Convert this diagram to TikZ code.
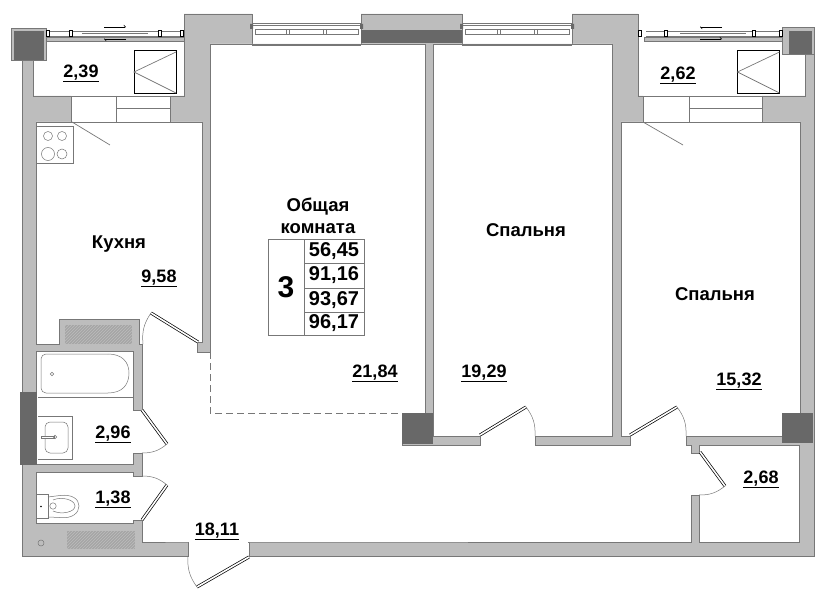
\documentclass[tikz,border=0pt]{standalone}
\usepackage{fontspec}
\setmainfont{Liberation Sans}
\usetikzlibrary{arrows, positioning, patterns, calc}
\definecolor{wallgray}{HTML}{BDBDBD}
\definecolor{edgegray}{HTML}{777777}
\definecolor{darkgray}{HTML}{686868}
\tikzset{%
	wall/.style={draw=edgegray, fill=wallgray, line width=0.9pt},
	room/.style={draw=edgegray, fill=white, line width=0.9pt},
	column/.style={fill=darkgray},
	thin line/.style={draw=edgegray, line width=0.7pt},
	door/.style={draw=black, double=white, line width=0.7pt, double distance=1.6pt},
	swing/.style={draw=edgegray, line width=0.5pt},
	vent/.style={pattern=north east lines, pattern color=wallgray, preaction={fill=gray!70}},
	area/.style={font=\fontsize{18}{18}\selectfont\bfseries, inner sep=1pt, yshift=-2.5pt},
	roomname/.style={font=\fontsize{18.5}{22}\selectfont\bfseries, align=center, inner sep=0pt},
	cell/.style={draw=edgegray, line width=0.7pt, minimum width=60pt, minimum height=24pt,%
		inner sep=0pt, font=\fontsize{20}{20}\selectfont\bfseries}
}
\newcommand{\Closet}[1]{%
	\draw [black, line width=1pt] (#1,51) rectangle ++(42,43);
	\draw [thin line] (#1+42,52) -- (#1,72) -- (#1+42,93);
}
\newcommand{\Glazing}[2]{%
	\draw [thin line] (#1,23.5) -- (#2,23.5) (#1,25.5) -- (#2,25.5);
	\draw [thin line, fill=white] (#1+3,29) rectangle (#2-3,34);
	\draw [thin line] (#1,45) -- (#2,45);
	\fill [darkgray] (#1-2,24) rectangle ++(3,5) (#2-1,24) rectangle ++(3,5);
}
\newcommand{\Slider}[1]{%
	\draw [thin line, fill=wallgray] (#1,37) rectangle ++(138,4);
	\draw [thin line] (#1+2,31) -- (#1+136,31) (#1+2,36) -- (#1+136,36);
	\draw [draw=edgegray, line width=1.6pt] (#1+36,33.5) -- ++(66,0);
}
\newcommand{\Tick}[1]{\draw [black, line width=0.6pt, fill=white] (#1-1.5,30.5) rectangle ++(3,6);}

\begin{document}
\begin{tikzpicture}[x=1pt, y=-1pt]
	\useasboundingbox (0,0) rectangle (828,604);
	%walls
	\path [wall] (22,60) -- (33,60) -- (33,96) -- (184,96) -- (184,14) -- (252,14) -- (252,44)
		-- (361,44) -- (361,14) -- (462,14) -- (462,44) -- (572,44) -- (572,14) -- (638,14)
		-- (638,96) -- (805,96) -- (805,54) -- (814,54) -- (814,556) -- (249,556) -- (249,542)
		-- (188,542) -- (188,556) -- (22,556) -- cycle;
	%rooms
	\path [room] (36,122) -- (202,122) -- (202,342) -- (197,342) -- (197,352) -- (210,352)
		-- (210,44) -- (425,44) -- (425,413) -- (402,413) -- (402,445) -- (480,445) -- (480,436)
		-- (433,436) -- (433,44) -- (612,44) -- (612,436) -- (535,436) -- (535,445) -- (630,445)
		-- (630,436) -- (621,436) -- (621,122) -- (800,122) -- (800,413) -- (782,413) -- (782,436)
		-- (686,436) -- (686,445) -- (691,445) -- (691,453) -- (699,453) -- (699,445) -- (799,445)
		-- (799,542) -- (699,542) -- (699,495) -- (691,495) -- (691,542) -- (249,542) -- (188,542)
		-- (142,542) -- (142,520) -- (133,520) -- (133,523) -- (36,523) -- (36,472) -- (133,472)
		-- (133,476) -- (142,476) -- (142,453) -- (133,453) -- (133,464) -- (36,464) -- (36,351)
		-- (133,351) -- (133,410) -- (142,410) -- (142,344) -- (139,344) -- (139,319) -- (59,319)
		-- (59,344) -- (36,344) -- cycle;
	% openings that the outlines cross
	\fill [white] (143,343) rectangle (196.5,353);
	\fill [white] (481,435) rectangle (534,446);
	\fill [white] (631,435) rectangle (685,446);
	\fill [white] (692,454) rectangle (700,494);
	\fill [white] (134,411) rectangle (143,452);
	\fill [white] (134,477) rectangle (143,519);
	\fill [white] (189,541) rectangle (248,557);
	%columns
	\draw [wall] (11,28) rectangle (46,60);
	\fill [column] (14,31) rectangle (44,60);
	\draw [wall] (782,27) rectangle (814,54);
	\fill [column] (789,31) rectangle (812,54);
	\fill [column] (361,30) rectangle (462,43);
	\fill [column] (402,413) rectangle (433,444);
	\fill [column] (782,413) rectangle (813,443);
	\fill [column] (20,392) rectangle (37,465);
	%balcony doors
	\fill [white] (71,95) rectangle (170,123);
	\fill [white] (643,95) rectangle (762,123);
	\draw [thin line] (71,96) -- (71,122) (116,96) -- (116,122) (170,96) -- (170,122) (116,108) -- (170,108);
	\draw [thin line] (643,96) -- (643,122) (689,96) -- (689,122) (762,96) -- (762,122) (689,108) -- (762,108);
	\draw [thin line] (36,96) -- (184,96) (36,122) -- (202,122);
	\draw [thin line] (638,96) -- (805,96) (621,122) -- (800,122);
	\draw [thin line] (72,122) -- (110,145);
	\draw [thin line] (643,122) -- (683,145);
	%balconies
	\Closet{134}
	\Closet{737.5}
	\Slider{46}
	\Slider{644}
	\Tick{48} \Tick{71} \Tick{160} \Tick{182}
	\Tick{640} \Tick{666} \Tick{754} \Tick{781}
	\draw [black, line width=0.7pt, -left to] (104,27) -- (126,27);
	\draw [black, line width=0.7pt, -left to] (126,39) -- (104,39);
	\draw [black, line width=0.7pt, -left to] (722,27) -- (700,27);
	\draw [black, line width=0.7pt, -left to] (700,39) -- (722,39);
	%windows
	\Glazing{252}{361}
	\Glazing{462}{572}
	\draw [thin line] (286,29) -- (286,34) (289,29) -- (289,34) (323,29) -- (323,34) (326,29) -- (326,34);
	\draw [thin line] (497,29) -- (497,34) (500,29) -- (500,34) (534,29) -- (534,34) (537,29) -- (537,34);
	%doors
	\draw [door] (151,313) -- (198,342);
	\draw [swing] (151,313) to[bend right=20] (143,344);
	\draw [door] (142,410) -- (167,444);
	\draw [swing] (167,444) to[bend left=20] (142,453);
	\draw [door] (142,520) -- (167,485);
	\draw [swing] (167,485) to[bend right=20] (142,476);
	\draw [door] (197,587) -- (249,557);
	\draw [swing] (197,587) to[bend left=20] (188,556);
	\draw [door] (480,435) -- (526,407);
	\draw [swing] (526,407) to[bend left=20] (535,436);
	\draw [door] (630,435) -- (677,407);
	\draw [swing] (677,407) to[bend left=20] (686,436);
	\draw [door] (700,452) -- (725,486);
	\draw [swing] (725,486) to[bend left=20] (699,495);
	%living room border
	\draw [edgegray, dash pattern=on 7pt off 4pt, line width=0.7pt] (210,352) -- (210,413) -- (402,413);
	%vents
	\path [vent] (65,325) rectangle (132,344);
	\path [vent] (67,531) rectangle (135,549);
	\draw [swing] (41,543) circle (3);
	%kitchen
	\draw [thin line] (37,126) -- (73,126) -- (73,163) -- (37,163);
	\draw [swing] (48,136) circle (4.5);
	\draw [swing] (62,136) circle (4.5);
	\draw [swing] (48,154) circle (6.5);
	\draw [swing] (62,154) circle (5);
	%bath
	\draw [thin line] (38,397) -- (133,397);
	\draw [swing, rounded corners=5pt] (108,393) -- (41,393) -- (41,354) -- (108,354);
	\draw [swing] (108,354) .. controls (122,354) and (129,362) .. (129,373) .. controls (129,385) and (122,393) .. (108,393);
	\draw [swing] (52,374) circle (1.8);
	\draw [swing] (38,416) -- (72,416) -- (72,459) -- (38,459);
	\draw [swing, rounded corners=5pt] (45,422) rectangle (68,453);
	\draw [swing, fill=white] (41,436.5) rectangle (54,438.5);
	\draw [swing] (55,437) circle (1.8);
	%toilet
	\draw [swing] (36,494) -- (48,494) -- (48,518) -- (36,518);
	\draw [swing] (48,497) -- (60,495.5);
	\draw [swing] (48,517) -- (60,517.5);
	\draw [swing] (60,495.5) .. controls (72,494) and (79,499) .. (79,506) .. controls (79,513) and (72,519) .. (60,517.5);
	\draw [swing] (53,500) .. controls (62,496) and (75,500) .. (75,506) .. controls (75,512) and (62,515) .. (53,511);
	\draw [swing] (53,506) circle (3.2);
	\fill (41,506.5) circle (0.8);
	%labels
	\node [area] (balconyleft) at (81,71) {\underline{2,39}};
	\node [area] (balconyright) at (678,73) {\underline{2,62}};
	\node [area] (kitchenarea) at (159,276) {\underline{9,58}};
	\node [area] (bathroom) at (113,432) {\underline{2,96}};
	\node [area] (toilet) at (113,497) {\underline{1,38}};
	\node [area] (hall) at (217,529) {\underline{18,11}};
	\node [area] (storage) at (761,477) {\underline{2,68}};
	\node [area] (livingarea) at (375,371) {\underline{21,84}};
	\node [area] (bedroomonearea) at (484,371) {\underline{19,29}};
	\node [area] (bedroomtwoarea) at (739,379) {\underline{15,32}};
	\node [roomname] (kitchen) at (119,244) {Кухня};
	\node [roomname] (living) at (318,216) {Общая\\комната};
	\node [roomname] (bedroomone) at (526,230) {Спальня};
	\node [roomname] (bedroomtwo) at (715,294) {Спальня};
	%area table
	\node [cell] (floorarea) at (334,251.5) {56,45};
	\node [cell, minimum height=25pt] (flatarea) at (334,275.5) {91,16};
	\node [cell] (fullarea) at (334,300) {93,67};
	\node [cell, minimum height=23pt] (totalarea) at (334,323.5) {96,17};
	\node [draw=edgegray, line width=0.7pt, minimum width=36pt, minimum height=96pt, inner sep=0pt,
		font=\fontsize{30}{30}\selectfont\bfseries] (rooms) at (286,287.5) {3};
\end{tikzpicture}
\end{document}
